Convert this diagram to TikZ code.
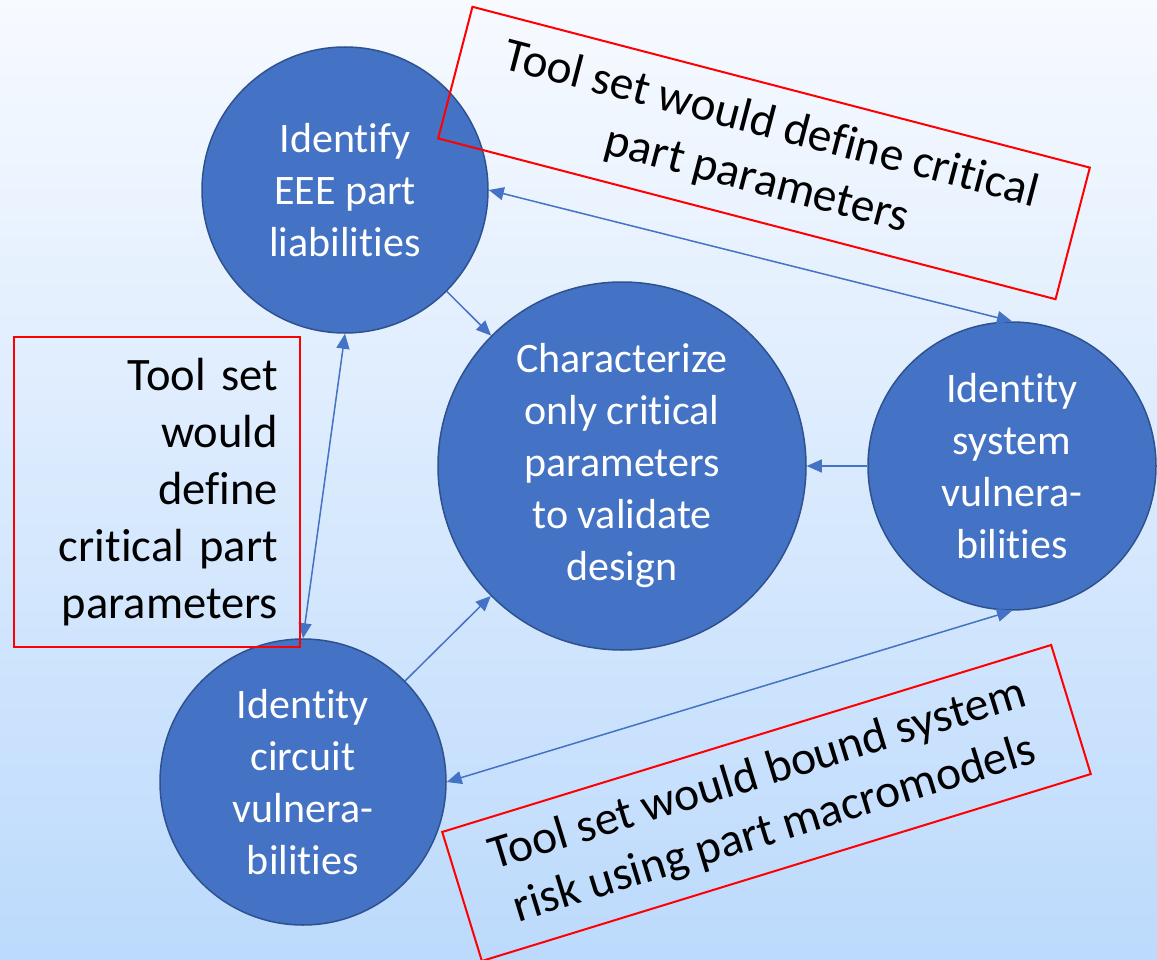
\documentclass[tikz,border=0pt]{standalone}
\usepackage{fontspec}
\setmainfont{Carlito}[Ligatures={NoCommon}]
\usetikzlibrary{arrows.meta}
\definecolor{discfill}{RGB}{68,114,196}
\definecolor{discedge}{RGB}{47,82,143}
\definecolor{skytop}{RGB}{247,250,255}
\definecolor{skybottom}{RGB}{188,218,252}
\definecolor{boxred}{RGB}{255,0,0}

\begin{document}
\begin{tikzpicture}[x=1pt,y=-1pt,
  disc/.style={circle, fill=discfill, draw=discedge, line width=1.5pt,
    minimum size=#1, inner sep=0pt, text=white, align=center,
    font=\fontsize{42}{52}\selectfont},
  tip/.tip={Triangle[length=15pt,width=13pt]},
  link/.style={draw=discfill, line width=1.5pt, -tip},
  twoway/.style={draw=discfill, line width=1.5pt, tip-tip},
  note/.style={draw=boxred, line width=2pt, align=center, inner sep=0pt,
    font=\fontsize{46.5}{57}\selectfont},
  slanted/.style={note, font=\fontsize{47.5}{57}\selectfont}
]
% page and background
\useasboundingbox (0,0) rectangle (1157,960);
\clip (0,0) rectangle (1157,960);
\shade[top color=skytop, bottom color=skybottom] (0,0) rectangle (1157,960);

% process circles
\node[disc=286] (c1) at (345,190) {Identify\\EEE part\\liabilities};
\node[disc=368] (c2) at (622,466) {Characterize\\only critical\\parameters\\to validate\\design};
\node[disc=288] (c3) at (1012,466) {Identity\\system\\vulnera-\\bilities};
\node[disc=286] (c4) at (303,782) {Identity\\circuit\\vulnera-\\bilities};

% connectors
\draw[link] (c1) -- (c2);
\draw[twoway] (c1.east) -- (c3.north);
\draw[link] (c3) -- (c2);
\draw[twoway] (c1.south) -- (c4.north);
\draw[link] (c4) -- (c2);
\draw[twoway] (c4.east) -- (c3.south);

% tool-set notes
\node[slanted, minimum width=638, minimum height=136, rotate=-14.6] (n1) at (764,153)
  {Tool set would define critical\\part parameters};
\node[note, minimum width=286, minimum height=310, text width=242,
  inner xsep=22, align=right] (n2) at (157,492)
  {Tool set\\would\\define\\critical part\\parameters};
\node[slanted, minimum width=637, minimum height=135, rotate=17.07] (n3) at (766.5,803)
  {Tool set would bound system\\risk using part macromodels};
\end{tikzpicture}
\end{document}
